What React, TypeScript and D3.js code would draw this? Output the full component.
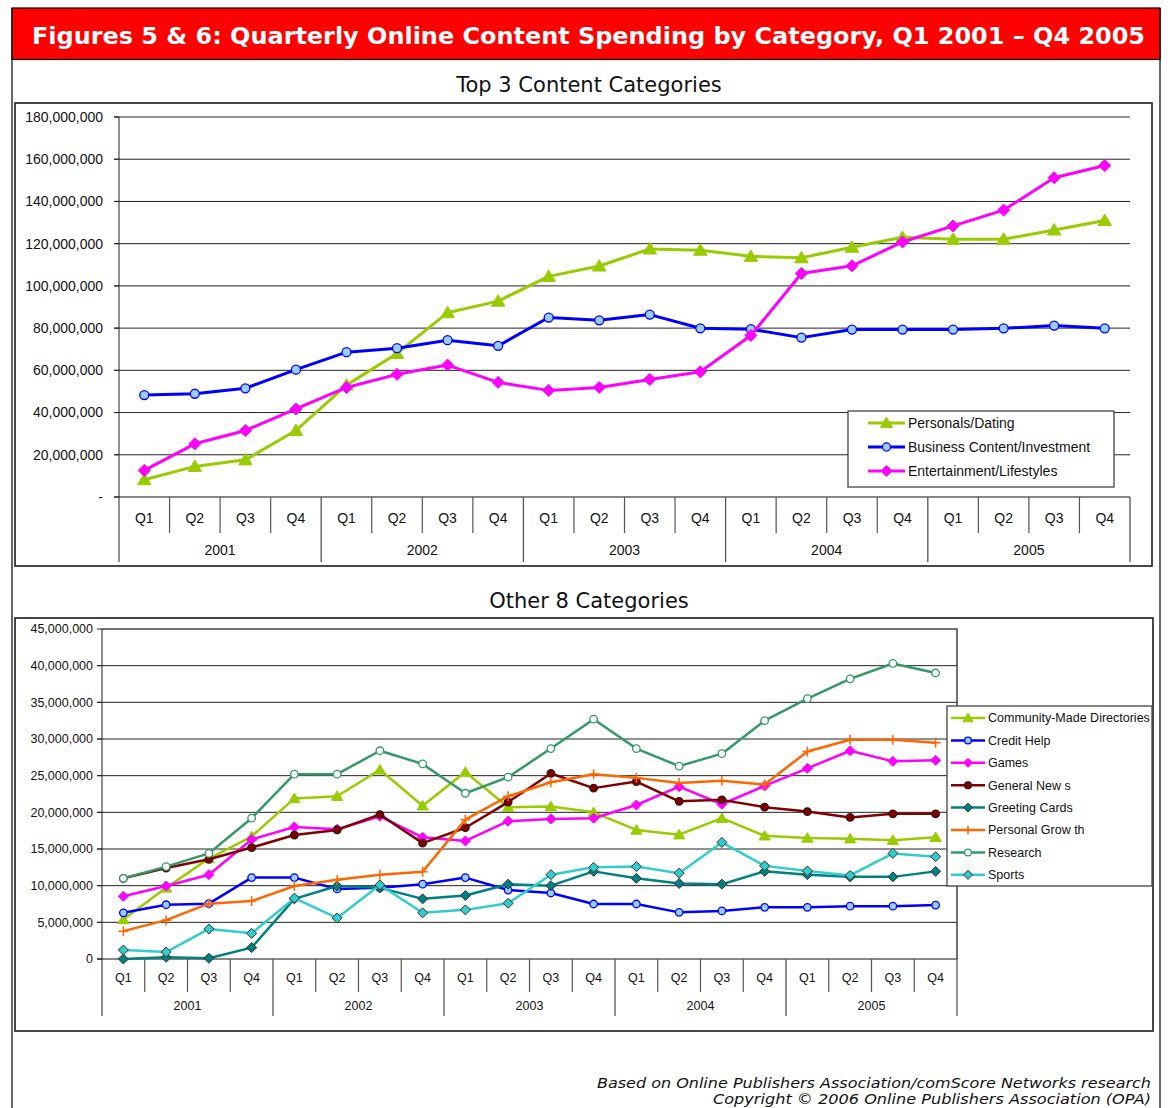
import * as React from 'react'
import * as d3 from 'd3'

const YEARS = ['2001', '2002', '2003', '2004', '2005']
const QUARTERS = ['Q1', 'Q2', 'Q3', 'Q4']
const PERIODS = YEARS.flatMap(y => QUARTERS.map(q => `${q} ${y}`))

// values in millions of dollars, Q1 2001 .. Q4 2005
const personalsDating = [8.2, 14.5, 17.6, 31.5, 53, 68, 87.3, 92.8, 104.5, 109.4, 117.5, 116.9, 114, 113.3, 118.3, 123, 122.1, 122.1, 126.5, 131]
const businessContent = [48.3, 48.9, 51.5, 60.3, 68.6, 70.5, 74.3, 71.6, 85, 83.7, 86.4, 79.9, 79.5, 75.5, 79.3, 79.3, 79.3, 79.9, 81.2, 79.9]
const entertainment = [12.6, 25.2, 31.5, 41.7, 51.9, 58.1, 62.5, 54.3, 50.5, 51.9, 55.7, 59.3, 76.5, 105.9, 109.5, 120.8, 128.4, 135.9, 151.2, 157]

const communityDirectories = [5.4, 9.7, 13.7, 16.7, 21.9, 22.2, 25.8, 20.9, 25.5, 20.7, 20.8, 20, 17.6, 16.95, 19.2, 16.8, 16.5, 16.4, 16.2, 16.6]
const creditHelp = [6.3, 7.4, 7.55, 11.1, 11.1, 9.55, 9.7, 10.2, 11.1, 9.4, 9.0, 7.5, 7.5, 6.36, 6.55, 7.05, 7.05, 7.2, 7.2, 7.36]
const games = [8.55, 9.95, 11.5, 16.3, 18.0, 17.7, 19.45, 16.6, 16.1, 18.8, 19.1, 19.2, 21.0, 23.5, 21.1, 23.6, 26.0, 28.4, 26.95, 27.1]
const generalNews = [11.0, 12.4, 13.6, 15.2, 16.9, 17.6, 19.7, 15.8, 17.9, 21.4, 25.3, 23.3, 24.2, 21.5, 21.7, 20.7, 20.1, 19.3, 19.8, 19.8]
const greetingCards = [0, 0.23, 0.1, 1.55, 8.2, 9.95, 9.7, 8.2, 8.65, 10.2, 10.0, 11.95, 11.0, 10.3, 10.2, 11.95, 11.5, 11.2, 11.2, 11.95]
const personalGrowth = [3.8, 5.3, 7.55, 7.9, 9.95, 10.8, 11.5, 11.9, 19.0, 22.2, 24.1, 25.2, 24.7, 24.0, 24.3, 23.8, 28.3, 29.9, 29.9, 29.5]
const research = [11.0, 12.6, 14.4, 19.2, 25.2, 25.2, 28.4, 26.6, 22.6, 24.8, 28.7, 32.7, 28.7, 26.3, 28.0, 32.5, 35.5, 38.2, 40.3, 39.0]
const sports = [1.23, 0.95, 4.1, 3.5, 8.3, 5.6, 10.1, 6.3, 6.7, 7.6, 11.5, 12.5, 12.6, 11.7, 15.9, 12.7, 12.0, 11.4, 14.4, 13.95]

const TOP_TICKS = [0, 20, 40, 60, 80, 100, 120, 140, 160, 180]
const BOTTOM_TICKS = [0, 5, 10, 15, 20, 25, 30, 35, 40, 45]

type Marker = 'triangle' | 'circle' | 'diamond' | 'plus'

interface Series {
    name: string
    values: number[]
    color: string
    marker: Marker
    fill: string
    markerStroke: string
}

const TOP_SERIES: Series[] = [
    { name: 'Personals/Dating', values: personalsDating, color: '#99CC00', marker: 'triangle', fill: '#99CC00', markerStroke: '#99CC00' },
    { name: 'Business Content/Investment', values: businessContent, color: '#0000FF', marker: 'circle', fill: '#99CCFF', markerStroke: '#0000FF' },
    { name: 'Entertainment/Lifestyles', values: entertainment, color: '#FF00FF', marker: 'diamond', fill: '#FF00FF', markerStroke: '#FF00FF' },
]

const BOTTOM_SERIES: Series[] = [
    { name: 'Community-Made Directories', values: communityDirectories, color: '#99CC00', marker: 'triangle', fill: '#99CC00', markerStroke: '#99CC00' },
    { name: 'Credit Help', values: creditHelp, color: '#0000FF', marker: 'circle', fill: '#99CCFF', markerStroke: '#0000FF' },
    { name: 'Games', values: games, color: '#FF00FF', marker: 'diamond', fill: '#FF00FF', markerStroke: '#FF00FF' },
    { name: 'General New s', values: generalNews, color: '#800000', marker: 'circle', fill: '#800000', markerStroke: '#3a1010' },
    { name: 'Greeting Cards', values: greetingCards, color: '#008080', marker: 'diamond', fill: '#008080', markerStroke: '#333333' },
    { name: 'Personal Grow th', values: personalGrowth, color: '#FF6600', marker: 'plus', fill: 'none', markerStroke: '#FF6600' },
    { name: 'Research', values: research, color: '#339966', marker: 'circle', fill: '#FFFFFF', markerStroke: '#339966' },
    { name: 'Sports', values: sports, color: '#33CCCC', marker: 'diamond', fill: '#33CCCC', markerStroke: '#333333' },
]

const AXIS_FONT = '"Liberation Sans", Arial, sans-serif'
const TITLE_FONT = '"DejaVu Sans", Verdana, sans-serif'

function markerPath(kind: Marker, s: number): string {
    if (kind === 'triangle') return `M0,${-s * 0.95}L${s},${s * 0.75}L${-s},${s * 0.75}Z`
    if (kind === 'diamond') return `M0,${-s}L${s},0L0,${s}L${-s},0Z`
    if (kind === 'plus') return `M${-s},0H${s}M0,${-s}V${s}`
    return ''
}

function MarkerShape({ s, x, y, size }: { s: Series, x: number, y: number, size: number }) {
    if (s.marker === 'circle') {
        return <circle cx={x} cy={y} r={size * 0.75} fill={s.fill} stroke={s.markerStroke} strokeWidth={1.3} />
    }
    const sz = s.marker === 'triangle' ? size * 1.12 : size
    return <path
        transform={`translate(${x},${y})`}
        d={markerPath(s.marker, sz)}
        fill={s.fill}
        stroke={s.markerStroke}
        strokeWidth={s.marker === 'plus' ? 1.5 : 1}
    />
}

interface ChartProps {
    series: Series[]
    max: number
    ticks: number[]
    zeroLabel: string
    left: number
    right: number
    top: number
    bottom: number
    qBottom: number
    yBottom: number
    labelX: number
    fontSize: number
    lineWidth: number
    markerSize: number
    frameTop: boolean
    qLabelY: number
    yearLabelY: number
    legend: { x: number, y: number, w: number, h: number, step: number, first: number, lineLen: number, pad: number }
}

function LineChart(p: ChartProps) {
    const x = d3.scaleBand().domain(PERIODS).range([p.left, p.right]).padding(0)
    const y = d3.scaleLinear().domain([0, p.max]).range([p.bottom, p.top])
    const bw = x.bandwidth()
    const cx = (i: number) => (x(PERIODS[i]) as number) + bw / 2
    const line = d3.line<number>().x((_, i) => cx(i)).y(d => y(d))
    const fmt = d3.format(',')

    return <g fontFamily={AXIS_FONT}>
        {p.ticks.map(t =>
            <g key={t}>
                {t > 0 && (t < p.max || !p.frameTop) &&
                    <line x1={p.left - 5} x2={p.right} y1={y(t)} y2={y(t)} stroke="#222" strokeWidth={1} />}
                <line x1={p.left - 5} x2={p.left} y1={y(t)} y2={y(t)} stroke="#222" />
                <text x={p.labelX} y={y(t)} dy="0.35em" textAnchor="end" fontSize={p.fontSize} fill="#111">
                    {t === 0 ? p.zeroLabel : fmt(t * 1e6)}
                </text>
            </g>
        )}
        {p.frameTop && <path d={`M${p.left},${p.top}H${p.right}V${p.bottom}`} fill="none" stroke="#444" strokeWidth={1.5} />}
        <line x1={p.left} x2={p.left} y1={p.top} y2={p.yBottom} stroke="#222" />
        <line x1={p.left - 5} x2={p.right} y1={p.bottom} y2={p.bottom} stroke="#111" strokeWidth={1.2} />
        {PERIODS.map((d, i) => {
            const bx = (x(d) as number) + bw
            const isYear = (i + 1) % 4 === 0
            return <line key={d} x1={bx} x2={bx} y1={p.bottom} y2={isYear ? p.yBottom : p.qBottom} stroke="#555" strokeWidth={isYear ? 1.3 : 1.2} />
        })}
        {PERIODS.map((d, i) =>
            <text key={d} x={cx(i)} y={p.qLabelY} textAnchor="middle" fontSize={p.fontSize} fill="#111">{QUARTERS[i % 4]}</text>
        )}
        {YEARS.map((yr, j) =>
            <text key={yr} x={p.left + (j * 4 + 2) * bw} y={p.yearLabelY} textAnchor="middle" fontSize={p.fontSize} fill="#111">{yr}</text>
        )}
        {p.series.map(s =>
            <g key={s.name}>
                <path d={line(s.values) as string} fill="none" stroke={s.color} strokeWidth={p.lineWidth} strokeLinejoin="round" />
                {s.values.map((v, i) => <MarkerShape key={i} s={s} x={cx(i)} y={y(v)} size={p.markerSize} />)}
            </g>
        )}
        <rect x={p.legend.x} y={p.legend.y} width={p.legend.w} height={p.legend.h} fill="#fff" stroke="#444" strokeWidth={1.3} />
        {p.series.map((s, i) => {
            const ly = p.legend.y + p.legend.first + i * p.legend.step
            const lx = p.legend.x + p.legend.pad
            return <g key={s.name}>
                <line x1={lx} x2={lx + p.legend.lineLen} y1={ly} y2={ly} stroke={s.color} strokeWidth={p.lineWidth} />
                <MarkerShape s={s} x={lx + p.legend.lineLen / 2} y={ly} size={p.markerSize * 0.9} />
                <text x={lx + p.legend.lineLen + 3} y={ly} dy="0.35em" fontSize={p.fontSize} fill="#111">{s.name}</text>
            </g>
        })}
    </g>
}

export default function App() {
    return <svg width={1172} height={1108} viewBox="0 0 1172 1108"
        style={{ position: 'absolute', left: 0, top: 0, background: '#fff' }}>
        <rect x={0} y={0} width={1172} height={1108} fill="#fff" />
        <line x1={12} x2={12} y1={8} y2={1108} stroke="#000" strokeWidth={1.2} />
        <line x1={1160} x2={1160} y1={8} y2={1108} stroke="#000" strokeWidth={1.2} />
        <rect x={12} y={8} width={1148} height={51.5} fill="#FF0000" stroke="#000" strokeWidth={1.2} />
        <text x={32} y={44} fill="#fff" fontFamily={TITLE_FONT} fontWeight="bold" fontSize={22.5}
            textLength={1113} lengthAdjust="spacingAndGlyphs">
            Figures 5 &amp; 6: Quarterly Online Content Spending by Category, Q1 2001 – Q4 2005
        </text>

        <text x={589} y={92} textAnchor="middle" fontFamily={TITLE_FONT} fontSize={21} fill="#111">Top 3 Content Categories</text>
        <rect x={15} y={103} width={1137} height={463} fill="none" stroke="#333" strokeWidth={1.8} />
        <LineChart
            series={TOP_SERIES} max={180} ticks={TOP_TICKS} zeroLabel="-"
            left={119} right={1130} top={117} bottom={497} qBottom={533} yBottom={562}
            labelX={103} fontSize={14} lineWidth={3} markerSize={6} frameTop={false}
            qLabelY={523} yearLabelY={555}
            legend={{ x: 848, y: 411, w: 266, h: 76, step: 24, first: 12, lineLen: 37, pad: 20 }}
        />

        <text x={589} y={608} textAnchor="middle" fontFamily={TITLE_FONT} fontSize={21} fill="#111">Other 8 Categories</text>
        <rect x={15} y={618} width={1138} height={413} fill="none" stroke="#333" strokeWidth={1.8} />
        <LineChart
            series={BOTTOM_SERIES} max={45} ticks={BOTTOM_TICKS} zeroLabel="0"
            left={102} right={957} top={629} bottom={959} qBottom={992} yBottom={1016}
            labelX={93} fontSize={12.5} lineWidth={2.5} markerSize={5} frameTop={true}
            qLabelY={982} yearLabelY={1010}
            legend={{ x: 947, y: 706, w: 205, h: 180, step: 22.4, first: 12, lineLen: 34, pad: 4 }}
        />

        <text x={1151} y={1088} textAnchor="end" fontFamily={TITLE_FONT} fontStyle="italic" fontSize={14.5} fill="#111"
            textLength={554} lengthAdjust="spacingAndGlyphs">
            Based on Online Publishers Association/comScore Networks research
        </text>
        <text x={1151} y={1104} textAnchor="end" fontFamily={TITLE_FONT} fontStyle="italic" fontSize={14.5} fill="#111"
            textLength={438} lengthAdjust="spacingAndGlyphs">
            Copyright © 2006 Online Publishers Association (OPA)
        </text>
    </svg>
}
